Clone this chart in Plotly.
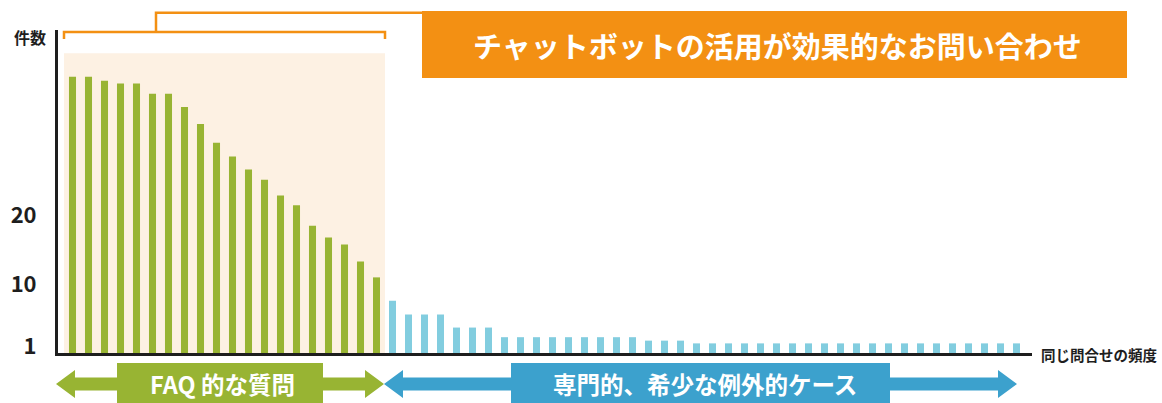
import plotly.graph_objects as go

# ---------------- data ----------------
faq_rank = list(range(1, 21))
rare_rank = list(range(21, 61))
faq_counts = [40.2, 40.2, 39.6, 39.2, 39.2, 37.7, 37.7, 35.8, 33.3, 30.6,
              28.6, 26.7, 25.2, 22.9, 21.5, 18.5, 16.8, 15.8, 13.3, 11.0]
rare_counts = [7.6, 5.6, 5.6, 5.6, 3.7, 3.7, 3.7, 2.3, 2.3, 2.3,
               2.3, 2.3, 2.3, 2.3, 2.3, 2.3, 1.8, 1.8, 1.8, 1.4,
               1.4, 1.4, 1.4, 1.4, 1.4, 1.4, 1.4, 1.4, 1.4, 1.4,
               1.4, 1.4, 1.4, 1.4, 1.4, 1.4, 1.4, 1.4, 1.4, 1.4]
y_ticks = [1, 10, 20]
y_tick_labels = ["1", "10", "20"]
title_text = "チャットボットの活用が効果的なお問い合わせ"
y_title = "件数"
x_title = "同じ問合せの頻度"
faq_label = "FAQ 的な質問"
rare_label = "専門的、希少な例外的ケース"

# ---------------- style ----------------
GREEN = "#98b433"
BLUE_BAR = "#82cddf"
BLUE = "#3ca1cd"
ORANGE = "#f39013"
PEACH = "#fdf1e3"
DARK = "#1e1e1e"
FONT = "Noto Sans CJK JP"

W, H = 1162, 403
ML, MR, MT, MB = 58, 130, 30, 50
PW = W - ML - MR
PH = H - MT - MB


def px(x):
    return (x - ML) / PW


def py(y):
    return (H - MB - y) / PH


fig = go.Figure()
fig.add_trace(go.Bar(x=faq_rank, y=faq_counts, marker_color=GREEN,
                     marker_line_width=0, width=0.44, hoverinfo="x+y"))
fig.add_trace(go.Bar(x=rare_rank, y=rare_counts, marker_color=BLUE_BAR,
                     marker_line_width=0, width=0.44, hoverinfo="x+y"))

shapes = []
shapes.append(dict(type="rect", xref="x", yref="y", x0=0.47, x1=20.53, y0=0, y1=43.6,
                   fillcolor=PEACH, line=dict(width=0), layer="below"))


def pth(points, close=False):
    s = "M " + " L ".join(f"{px(a):.5f},{py(b):.5f}" for a, b in points)
    return s + (" Z" if close else "")


shapes.append(dict(type="path", xref="paper", yref="paper",
                   path=pth([(64, 39), (64, 32), (385, 32), (385, 39)]),
                   line=dict(color=ORANGE, width=2.5)))
shapes.append(dict(type="path", xref="paper", yref="paper",
                   path=pth([(156, 32), (156, 12.7), (424, 12.7)]),
                   line=dict(color=ORANGE, width=2.5)))
shapes.append(dict(type="rect", xref="paper", yref="paper",
                   x0=px(422), x1=px(1127), y0=py(78), y1=py(11),
                   fillcolor=ORANGE, line=dict(width=0)))


def double_arrow(x0, x1, cy, head_len, head_half, shaft_half):
    pts = [(x0, cy), (x0 + head_len, cy - head_half), (x0 + head_len, cy - shaft_half),
           (x1 - head_len, cy - shaft_half), (x1 - head_len, cy - head_half), (x1, cy),
           (x1 - head_len, cy + head_half), (x1 - head_len, cy + shaft_half),
           (x0 + head_len, cy + shaft_half), (x0 + head_len, cy + head_half)]
    return pth(pts, close=True)


shapes.append(dict(type="path", xref="paper", yref="paper",
                   path=double_arrow(56, 384, 384, 19, 14, 6.5),
                   fillcolor=GREEN, line=dict(width=0)))
shapes.append(dict(type="rect", xref="paper", yref="paper",
                   x0=px(117), x1=px(323), y0=py(404), y1=py(363),
                   fillcolor=GREEN, line=dict(width=0)))
shapes.append(dict(type="path", xref="paper", yref="paper",
                   path=double_arrow(384, 1017, 384, 19, 14, 6.5),
                   fillcolor=BLUE, line=dict(width=0)))
shapes.append(dict(type="rect", xref="paper", yref="paper",
                   x0=px(511), x1=px(890), y0=py(404), y1=py(363),
                   fillcolor=BLUE, line=dict(width=0)))

annotations = [
    dict(text=title_text, x=px(777), y=py(45), xref="paper", yref="paper",
         showarrow=False, xanchor="center", yanchor="middle",
         font=dict(family=FONT, size=29, color="white", weight="bold")),
    dict(text=y_title, x=px(30), y=py(37), xref="paper", yref="paper",
         showarrow=False, xanchor="center", yanchor="middle",
         font=dict(family=FONT, size=16, color=DARK, weight="bold")),
    dict(text=x_title, x=px(1039), y=py(354), xref="paper", yref="paper",
         showarrow=False, xanchor="left", yanchor="middle",
         font=dict(family=FONT, size=14.5, color=DARK, weight="bold")),
    dict(text=faq_label, x=px(222), y=py(384), xref="paper", yref="paper",
         showarrow=False, xanchor="center", yanchor="middle",
         font=dict(family=FONT, size=23.5, color="white", weight="bold")),
    dict(text=rare_label, x=px(705), y=py(384), xref="paper", yref="paper",
         showarrow=False, xanchor="center", yanchor="middle",
         font=dict(family=FONT, size=23.5, color="white", weight="bold")),
]

fig.update_layout(
    width=W, height=H,
    margin=dict(l=ML, r=MR, t=MT, b=MB, pad=0),
    paper_bgcolor="white", plot_bgcolor="white",
    showlegend=False, barmode="overlay",
    shapes=shapes, annotations=annotations,
    xaxis=dict(range=[(ML - 72.5) / 16 + 1, (ML - 72.5) / 16 + 1 + PW / 16],
               showline=True, linecolor=DARK, linewidth=3, showgrid=False,
               zeroline=False, showticklabels=False, ticks="", fixedrange=True),
    yaxis=dict(range=[0, PH / 6.875], tickvals=y_ticks, ticktext=y_tick_labels,
               showline=True, linecolor=DARK, linewidth=3, showgrid=False,
               zeroline=False, ticks="", ticklabelstandoff=14,
               tickfont=dict(family=FONT, size=22, color=DARK, weight="bold"),
               fixedrange=True),
)

fig.write_html(
    "out.html",
    config={"displayModeBar": False},
    post_script="document.body.style.margin='0';document.body.style.overflow='hidden';",
)
